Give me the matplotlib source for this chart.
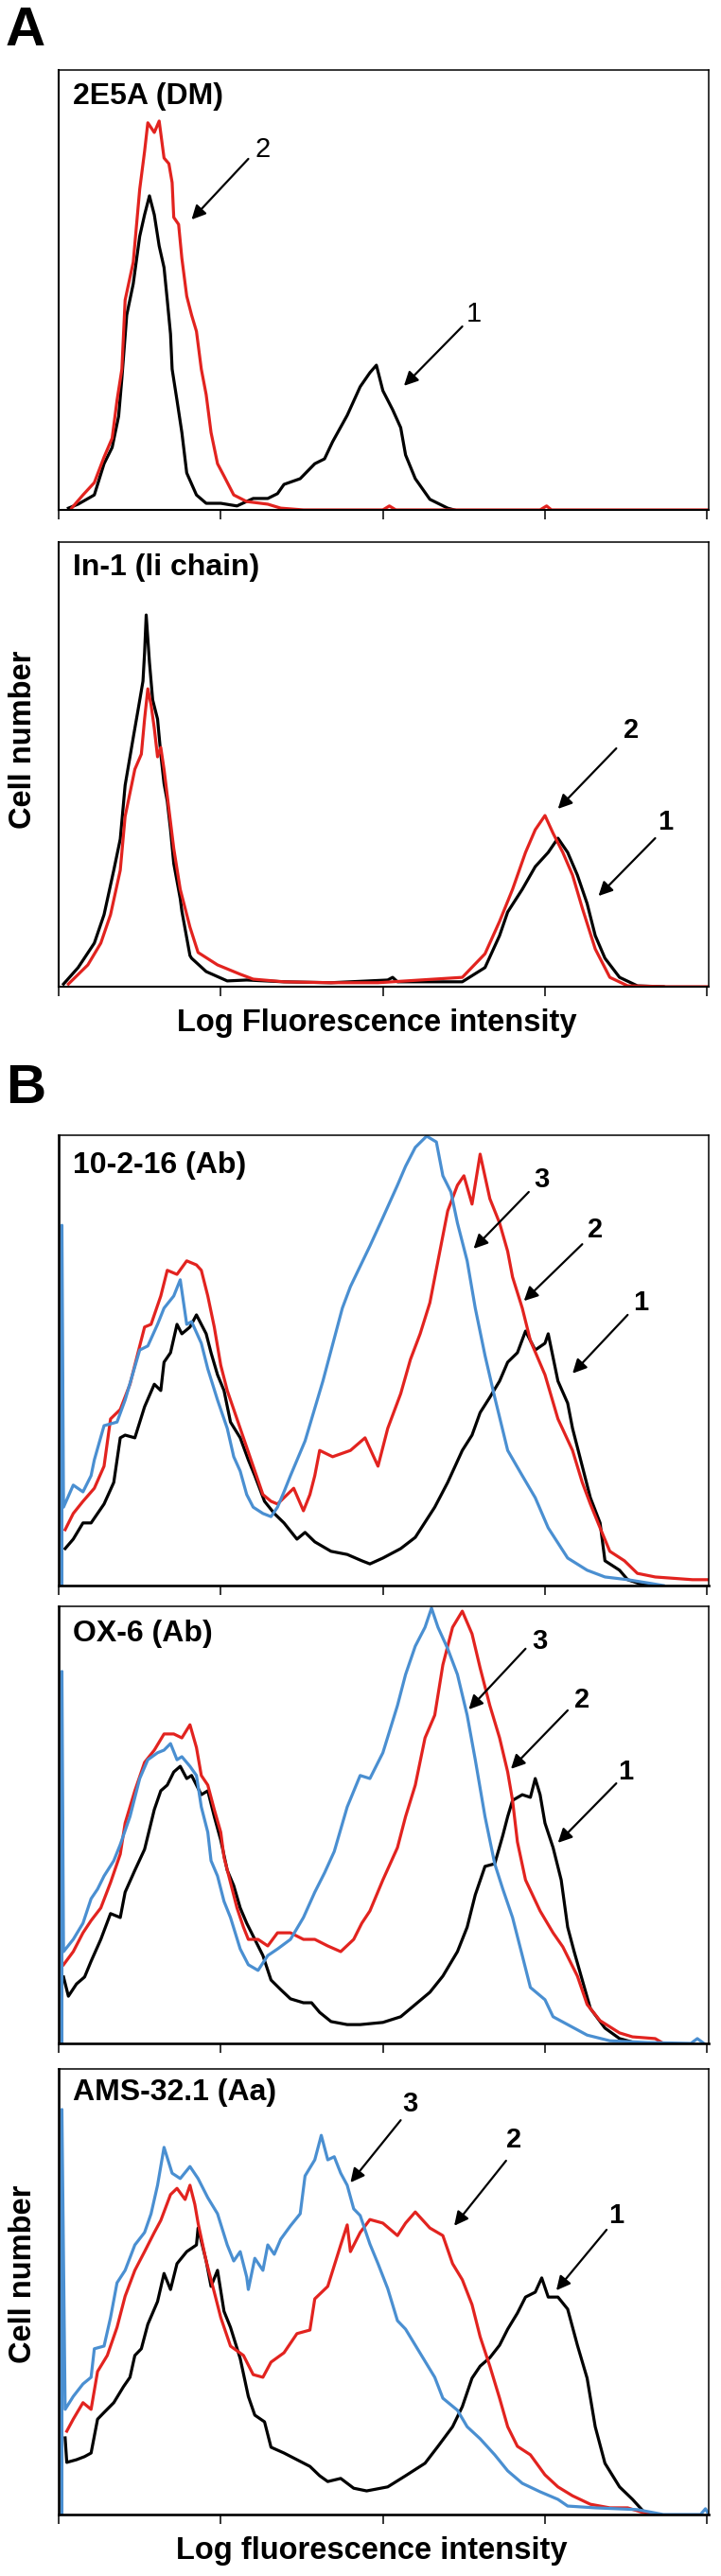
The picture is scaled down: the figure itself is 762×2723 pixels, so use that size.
import matplotlib
matplotlib.use("Agg")
import matplotlib.pyplot as plt

plt.rcParams["font.family"] = ["Liberation Sans", "DejaVu Sans"]

RED = "#e2231f"
BLUE = "#4a8fd1"

# x = log fluorescence (decades, 0-4), y = cell number (% of panel height)

# ── A, panel 1: 2E5A (DM) ─────────────────────────────────────────
p1_black_x = [0.06, 0.12, 0.22, 0.28, 0.33, 0.37, 0.39, 0.42, 0.46, 0.50, 0.53, 0.56, 0.59, 0.62, 0.65,
              0.67, 0.69, 0.70, 0.73, 0.76, 0.79, 0.85, 0.91, 1.00, 1.10, 1.20, 1.29, 1.35, 1.39, 1.49,
              1.58, 1.64, 1.69, 1.78, 1.86, 1.92, 1.96, 2.00, 2.06, 2.11, 2.14, 2.20, 2.29, 2.40, 2.44]
p1_black_y = [0.4, 1.3, 3.4, 10.5, 14.2, 21.3, 29.9, 44.3, 51.4, 62.2, 67.1, 71.4, 67.1, 60.0, 55.1,
              47.7, 40.0, 32.0, 24.9, 17.6, 8.4, 3.4, 1.5, 1.5, 0.9, 2.6, 2.6, 3.7, 5.8, 7.1,
              10.5, 11.6, 15.5, 21.5, 28.0, 31.2, 32.9, 27.1, 22.8, 18.7, 12.5, 7.1, 2.4, 0.4, 0.0]
p1_red_x = [0.08, 0.15, 0.22, 0.28, 0.33, 0.36, 0.39, 0.41, 0.46, 0.50, 0.53, 0.55, 0.59, 0.62, 0.65,
            0.68, 0.70, 0.71, 0.74, 0.76, 0.79, 0.82, 0.85, 0.88, 0.91, 0.94, 0.98, 1.02, 1.08, 1.16,
            1.29, 1.37, 1.51, 2.00, 2.04, 2.08, 2.97, 3.01, 3.04, 4.01]
p1_red_y = [0.4, 3.4, 6.2, 12.0, 16.3, 24.9, 32.0, 47.7, 56.3, 72.9, 81.5, 88.0, 85.8, 88.4, 80.0,
            78.7, 74.4, 66.5, 64.9, 57.2, 48.6, 44.3, 40.6, 32.0, 26.2, 17.6, 10.5, 7.7, 3.4, 1.9,
            1.3, 0.4, 0, 0, 0.9, 0, 0, 0.9, 0, 0]

# ── A, panel 2: In-1 (Ii chain) ───────────────────────────────────
p2_black_x = [0.03, 0.12, 0.22, 0.28, 0.34, 0.38, 0.41, 0.46, 0.49, 0.52, 0.53, 0.54, 0.56, 0.58, 0.61,
              0.63, 0.65, 0.67, 0.69, 0.71, 0.75, 0.76, 0.81, 0.82, 0.91, 1.04, 1.16, 1.39, 1.68, 2.03,
              2.06, 2.09, 2.49, 2.63, 2.72, 2.77, 2.86, 2.94, 3.00, 3.02, 3.08, 3.14, 3.20, 3.26, 3.31,
              3.37, 3.46, 3.57, 3.73]
p2_black_y = [0.6, 4.3, 9.8, 16.2, 26.2, 33.2, 45.3, 56.0, 62.3, 68.7, 75.1, 83.6, 73.0, 64.5, 60.2,
              52.3, 45.7, 41.7, 35.3, 27.7, 19.8, 17.0, 7.0, 6.4, 3.4, 1.3, 1.5, 1.1, 0.9, 1.5,
              2.1, 1.1, 1.1, 4.3, 11.5, 16.8, 21.9, 27.0, 29.4, 30.2, 33.4, 30.2, 25.1, 18.7, 11.5,
              6.4, 2.1, 0.2, 0]
p2_red_x = [0.06, 0.18, 0.26, 0.32, 0.38, 0.41, 0.47, 0.51, 0.53, 0.55, 0.57, 0.59, 0.61, 0.63, 0.65,
            0.71, 0.75, 0.81, 0.86, 0.98, 1.12, 1.20, 1.39, 1.68, 1.97, 2.49, 2.63, 2.72, 2.80, 2.88,
            2.94, 3.00, 3.05, 3.11, 3.17, 3.23, 3.31, 3.40, 3.51, 3.75, 4.01]
p2_red_y = [0.6, 4.9, 9.8, 16.2, 26.2, 38.3, 48.9, 52.3, 60.2, 67.0, 63.4, 58.1, 51.7, 53.8, 48.9,
            31.1, 21.9, 13.4, 7.7, 4.9, 2.8, 1.7, 1.1, 0.9, 0.9, 2.1, 7.4, 14.7, 21.9, 30.2,
            35.3, 38.5, 34.5, 30.2, 25.1, 17.7, 8.5, 2.1, 0.2, 0, 0]

# ── B, panel 3: 10-2-16 (Ab) ──────────────────────────────────────
p3_black_x = [0.04, 0.09, 0.15, 0.20, 0.28, 0.34, 0.38, 0.41, 0.47, 0.53, 0.59, 0.63, 0.65, 0.69, 0.73,
              0.76, 0.81, 0.85, 0.91, 0.94, 0.98, 1.02, 1.06, 1.12, 1.17, 1.21, 1.27, 1.33, 1.39, 1.47,
              1.52, 1.58, 1.68, 1.78, 1.87, 1.92, 2.00, 2.11, 2.20, 2.32, 2.40, 2.49, 2.55, 2.60, 2.66,
              2.72, 2.77, 2.83, 2.88, 2.94, 3.00, 3.02, 3.08, 3.14, 3.17, 3.23, 3.28, 3.34, 3.37, 3.46,
              3.51, 3.60, 3.67]
p3_black_y = [8.2, 10.3, 13.9, 13.9, 18.1, 22.9, 32.8, 33.4, 32.8, 39.7, 44.7, 43.3, 49.6, 51.7, 58.0,
              55.9, 57.4, 60.1, 55.9, 51.7, 46.8, 43.3, 36.3, 32.8, 27.9, 24.4, 18.7, 16.0, 13.9, 10.3,
              11.8, 9.7, 7.6, 6.9, 5.5, 4.8, 6.1, 8.2, 10.7, 17.4, 22.9, 30.0, 33.4, 38.4, 41.8,
              45.4, 49.6, 51.7, 56.5, 52.3, 53.8, 55.9, 45.4, 40.5, 34.9, 26.5, 19.5, 13.9, 5.5, 3.4,
              1.3, 0.2, 0]
p3_red_x = [0.04, 0.09, 0.15, 0.22, 0.28, 0.32, 0.38, 0.44, 0.50, 0.53, 0.57, 0.63, 0.67, 0.73, 0.79,
            0.85, 0.88, 0.92, 0.96, 1.00, 1.04, 1.08, 1.14, 1.20, 1.26, 1.31, 1.35, 1.39, 1.45, 1.51,
            1.55, 1.58, 1.61, 1.69, 1.80, 1.89, 1.97, 2.03, 2.11, 2.17, 2.23, 2.29, 2.34, 2.40, 2.46,
            2.50, 2.55, 2.60, 2.66, 2.72, 2.77, 2.80, 2.86, 2.91, 3.00, 3.08, 3.17, 3.23, 3.28, 3.34,
            3.40, 3.49, 3.57, 3.68, 3.91, 4.01]
p3_red_y = [12.4, 16.0, 18.7, 21.6, 26.5, 37.0, 39.1, 44.7, 53.2, 57.4, 58.0, 64.3, 70.0, 69.1, 72.1,
            71.2, 70.0, 64.3, 57.4, 48.9, 43.3, 39.1, 32.8, 26.5, 20.2, 18.7, 18.1, 19.5, 21.6, 16.6,
            20.2, 24.4, 30.0, 28.6, 30.0, 32.8, 26.5, 34.9, 42.6, 50.2, 55.9, 62.8, 72.1, 83.2, 88.9,
            91.0, 84.7, 95.8, 85.9, 80.5, 74.2, 68.5, 61.6, 54.4, 46.8, 37.0, 30.0, 22.9, 18.1, 12.8,
            7.6, 5.5, 2.7, 1.9, 1.3, 1.3]
p3_blue_x = [0.02, 0.02, 0.03, 0.09, 0.15, 0.20, 0.22, 0.28, 0.36, 0.41, 0.50, 0.55, 0.61, 0.65, 0.71,
             0.75, 0.79, 0.82, 0.88, 0.92, 0.98, 1.04, 1.08, 1.12, 1.16, 1.20, 1.26, 1.31, 1.35, 1.39,
             1.43, 1.52, 1.63, 1.75, 1.80, 1.92, 2.00, 2.09, 2.14, 2.20, 2.27, 2.33, 2.37, 2.42, 2.46,
             2.52, 2.57, 2.63, 2.69, 2.77, 2.86, 2.94, 3.02, 3.14, 3.26, 3.37, 3.51, 3.63, 3.73]
p3_blue_y = [0, 80.0, 17.4, 22.3, 20.8, 24.4, 27.9, 35.5, 36.3, 41.2, 52.3, 53.2, 58.0, 61.6, 64.3,
             67.9, 58.0, 58.6, 53.8, 48.1, 41.2, 34.9, 28.6, 25.4, 20.2, 17.4, 16.0, 15.3, 17.4, 20.8,
             24.4, 32.1, 45.4, 61.6, 66.4, 75.4, 81.7, 88.9, 93.1, 97.3, 99.8, 98.5, 91.0, 87.4, 80.5,
             72.1, 61.6, 51.1, 41.8, 30.0, 24.4, 19.5, 12.8, 6.1, 3.4, 1.9, 1.3, 0.6, 0]

# ── B, panel 4: OX-6 (Ab) ─────────────────────────────────────────
p4_black_x = [0.03, 0.06, 0.11, 0.16, 0.20, 0.26, 0.32, 0.38, 0.41, 0.47, 0.53, 0.59, 0.63, 0.67, 0.71,
              0.75, 0.79, 0.82, 0.88, 0.92, 0.96, 1.00, 1.04, 1.08, 1.12, 1.16, 1.21, 1.26, 1.31, 1.37,
              1.43, 1.51, 1.56, 1.61, 1.68, 1.78, 1.86, 2.00, 2.11, 2.20, 2.29, 2.37, 2.46, 2.52, 2.57,
              2.63, 2.69, 2.74, 2.77, 2.80, 2.86, 2.91, 2.94, 2.97, 3.00, 3.05, 3.10, 3.14, 3.18, 3.23,
              3.28, 3.37, 3.46, 3.57]
p4_black_y = [15.2, 10.8, 13.6, 15.2, 18.8, 23.8, 29.7, 28.8, 34.6, 39.6, 44.4, 53.5, 57.8, 59.1, 62.1,
              63.4, 60.6, 61.3, 56.9, 57.8, 51.9, 46.5, 39.6, 36.1, 31.0, 27.5, 23.8, 20.1, 14.5, 12.3,
              10.2, 9.3, 9.3, 7.1, 5.0, 4.3, 4.3, 4.8, 6.1, 8.9, 11.7, 15.4, 21.0, 26.6, 34.0,
              40.5, 41.1, 47.6, 51.9, 55.6, 56.9, 56.3, 60.6, 56.9, 50.4, 44.8, 37.4, 26.6, 21.0, 14.5,
              8.0, 3.5, 1.1, 0]
p4_red_x = [0.03, 0.09, 0.15, 0.20, 0.26, 0.32, 0.38, 0.41, 0.47, 0.53, 0.59, 0.65, 0.71, 0.76, 0.81,
            0.85, 0.88, 0.92, 0.96, 1.00, 1.02, 1.06, 1.10, 1.14, 1.17, 1.23, 1.29, 1.35, 1.43, 1.51,
            1.58, 1.66, 1.74, 1.82, 1.87, 1.92, 2.00, 2.09, 2.14, 2.20, 2.26, 2.32, 2.37, 2.43, 2.49,
            2.55, 2.60, 2.66, 2.72, 2.77, 2.80, 2.83, 2.88, 2.97, 3.05, 3.11, 3.20, 3.26, 3.34, 3.46,
            3.54, 3.68, 3.73]
p4_red_y = [18.0, 21.0, 25.3, 28.1, 31.0, 36.8, 43.3, 50.4, 57.8, 64.3, 67.1, 70.8, 70.8, 69.9, 72.9,
            67.7, 61.3, 59.1, 53.5, 48.3, 42.6, 36.8, 31.0, 26.6, 23.8, 23.8, 22.3, 25.3, 25.3, 23.8,
            23.8, 22.3, 21.0, 23.8, 27.5, 30.3, 37.4, 44.8, 51.9, 59.1, 69.9, 75.1, 86.6, 95.2, 98.9,
            93.7, 85.9, 77.3, 69.9, 62.1, 55.6, 46.1, 37.4, 30.3, 25.3, 22.1, 15.4, 8.9, 5.2, 2.4,
            1.5, 1.1, 0]
p4_blue_x = [0.02, 0.02, 0.03, 0.09, 0.15, 0.20, 0.24, 0.28, 0.34, 0.38, 0.44, 0.50, 0.55, 0.61, 0.65,
             0.69, 0.73, 0.76, 0.81, 0.85, 0.88, 0.92, 0.94, 0.98, 1.02, 1.06, 1.12, 1.17, 1.23, 1.29,
             1.35, 1.43, 1.51, 1.58, 1.64, 1.70, 1.78, 1.86, 1.92, 2.00, 2.09, 2.14, 2.20, 2.26, 2.30,
             2.34, 2.40, 2.46, 2.52, 2.57, 2.63, 2.69, 2.74, 2.80, 2.86, 2.91, 3.00, 3.05, 3.14, 3.26,
             3.40, 3.63, 3.90, 3.94, 3.98]
p4_blue_y = [0, 85.1, 21.0, 23.8, 27.5, 33.1, 35.3, 38.3, 41.8, 45.5, 51.9, 60.6, 64.9, 66.5, 67.1,
             68.6, 64.9, 65.6, 63.4, 61.3, 54.1, 48.3, 41.8, 38.3, 32.5, 28.8, 21.6, 18.0, 16.7, 20.1,
             21.6, 23.8, 28.8, 34.6, 39.0, 43.9, 54.1, 61.3, 60.6, 66.5, 77.3, 84.4, 90.9, 95.2, 99.6,
             95.2, 90.3, 84.4, 75.1, 64.9, 51.9, 41.1, 35.3, 28.8, 20.1, 12.8, 10.0, 6.1, 4.3, 1.9,
             0.6, 0.2, 0, 1.1, 0]

# ── B, panel 5: AMS-32.1 (Aa) ─────────────────────────────────────
p5_black_x = [0.04, 0.05, 0.11, 0.16, 0.20, 0.24, 0.28, 0.34, 0.40, 0.44, 0.47, 0.51, 0.55, 0.61, 0.65,
              0.69, 0.73, 0.79, 0.85, 0.86, 0.91, 0.94, 0.98, 1.02, 1.06, 1.12, 1.17, 1.21, 1.27, 1.31,
              1.39, 1.47, 1.55, 1.61, 1.66, 1.74, 1.82, 1.90, 2.03, 2.14, 2.26, 2.34, 2.43, 2.49, 2.55,
              2.60, 2.66, 2.72, 2.77, 2.83, 2.88, 2.94, 2.98, 3.02, 3.08, 3.14, 3.20, 3.26, 3.31, 3.37,
              3.46, 3.54, 3.61, 3.67]
p5_black_y = [17.2, 11.7, 12.3, 13.0, 13.8, 21.4, 22.9, 25.1, 28.7, 30.8, 35.7, 37.2, 42.7, 47.8, 54.1,
              50.5, 56.3, 59.0, 60.5, 64.3, 56.9, 51.2, 54.8, 45.6, 42.0, 35.0, 26.5, 22.3, 20.8, 15.1,
              13.8, 12.3, 10.8, 8.7, 7.4, 8.1, 5.9, 5.3, 6.2, 8.7, 11.5, 15.3, 19.7, 24.2, 30.6,
              33.3, 35.2, 38.0, 41.6, 45.2, 48.8, 49.9, 53.1, 48.8, 48.8, 46.1, 38.0, 30.6, 19.7, 11.5,
              6.2, 3.4, 0.6, 0]
p5_red_x = [0.05, 0.09, 0.15, 0.20, 0.24, 0.30, 0.36, 0.41, 0.47, 0.53, 0.59, 0.63, 0.69, 0.73, 0.78,
            0.81, 0.84, 0.86, 0.91, 0.96, 1.00, 1.06, 1.14, 1.20, 1.26, 1.31, 1.39, 1.47, 1.55, 1.58,
            1.66, 1.74, 1.78, 1.80, 1.86, 1.92, 2.00, 2.09, 2.14, 2.20, 2.29, 2.37, 2.43, 2.49, 2.55,
            2.60, 2.66, 2.72, 2.77, 2.83, 2.91, 3.00, 3.08, 3.17, 3.28, 3.40, 3.51, 3.59, 3.67]
p5_red_y = [18.7, 21.4, 25.1, 23.6, 32.1, 35.7, 42.0, 49.0, 54.8, 59.0, 63.3, 66.0, 71.8, 73.2, 70.7,
            73.9, 69.6, 65.4, 56.9, 49.9, 44.2, 37.8, 35.7, 31.4, 30.8, 34.2, 36.3, 40.6, 41.4, 48.4,
            51.2, 60.5, 65.0, 59.0, 63.3, 66.2, 65.4, 62.6, 65.4, 67.9, 64.3, 62.6, 56.3, 52.7, 47.1,
            39.9, 33.3, 26.1, 19.7, 15.3, 13.4, 8.9, 6.2, 4.2, 2.3, 1.5, 1.5, 0.6, 0]
p5_blue_x = [0.02, 0.02, 0.04, 0.09, 0.15, 0.20, 0.22, 0.28, 0.32, 0.36, 0.41, 0.47, 0.53, 0.57, 0.61,
             0.65, 0.70, 0.75, 0.81, 0.86, 0.92, 0.98, 1.04, 1.08, 1.12, 1.16, 1.17, 1.21, 1.26, 1.29,
             1.33, 1.37, 1.43, 1.49, 1.52, 1.58, 1.62, 1.66, 1.70, 1.74, 1.78, 1.82, 1.86, 1.92, 1.97,
             2.03, 2.09, 2.14, 2.20, 2.26, 2.32, 2.37, 2.46, 2.52, 2.60, 2.69, 2.77, 2.86, 2.97, 3.08,
             3.14, 3.31, 3.57, 3.73, 3.96, 3.99, 4.01]
p5_blue_y = [0, 90.9, 23.6, 26.5, 29.3, 30.8, 37.2, 37.8, 44.2, 52.0, 54.8, 60.5, 63.3, 67.5, 73.9,
             82.4, 76.6, 75.4, 78.1, 75.4, 71.1, 67.5, 60.5, 56.9, 59.0, 53.3, 50.5, 57.5, 54.8, 60.5,
             58.4, 61.8, 64.8, 67.5, 76.0, 79.6, 85.1, 79.6, 80.3, 76.6, 73.9, 68.6, 67.1, 60.7, 56.3,
             50.7, 43.5, 41.6, 38.0, 34.4, 30.8, 26.1, 23.4, 19.7, 17.0, 13.4, 9.8, 7.0, 5.1, 3.4,
             1.9, 1.5, 1.1, 0, 0, 1.3, 0]

panel_titles = ["2E5A (DM)", "In-1 (li chain)", "10-2-16 (Ab)", "OX-6 (Ab)", "AMS-32.1 (Aa)"]

# ── Layout (pixel boxes of the 762 x 2723 figure) ─────────────────
W, H = 762, 2723
X0, X1 = 62, 749
boxes = [(74, 539), (573, 1043), (1200, 1676), (1698, 2160), (2187, 2658)]
title_gap = [13, 12, 17, 14, 10]

fig = plt.figure(figsize=(W / 100, H / 100), dpi=100)


def make_axes(top, bottom, thick):
    ax = fig.add_axes([X0 / W, 1 - bottom / H, (X1 - X0) / W, (bottom - top) / H])
    ax.set_xlim(0, 4.01)
    ax.set_ylim(0, 100)
    ax.set_xticks([0, 1, 2, 3, 4])
    ax.set_xticklabels([])
    ax.set_yticks([])
    ax.tick_params(axis="x", direction="out", length=7.5, width=1.1, color="black")
    for side in ["top", "right"]:
        ax.spines[side].set_linewidth(1.1)
    for side in ["left", "bottom"]:
        ax.spines[side].set_linewidth(thick)
    return ax


def arrow(ax, label, txt, tail, head, bold=True):
    ax.annotate("", xy=head, xytext=tail,
                arrowprops=dict(arrowstyle="-|>", color="black", lw=1.6,
                                mutation_scale=22, shrinkA=0, shrinkB=0))
    ax.text(txt[0], txt[1], label, ha="center", va="center", fontsize=21,
            fontweight="bold" if bold else "normal")


axes = []
for i, (top, bottom) in enumerate(boxes):
    ax = make_axes(top, bottom, 1.5 if i < 2 else 1.9)
    ax.text(0.022, 1 - title_gap[i] / (bottom - top), panel_titles[i], transform=ax.transAxes,
            ha="left", va="top", fontsize=23, fontweight="bold")
    axes.append(ax)

lw = 2.3
# panel 1
axes[0].plot(p1_black_x, p1_black_y, color="black", lw=lw)
axes[0].plot(p1_red_x, p1_red_y, color=RED, lw=lw)
arrow(axes[0], "2", (1.26, 81.9), (1.17, 79.8), (0.82, 66.0), bold=False)
arrow(axes[0], "1", (2.56, 44.5), (2.49, 41.7), (2.13, 28.2), bold=False)

# panel 2
axes[1].plot(p2_black_x, p2_black_y, color="black", lw=lw)
axes[1].plot(p2_red_x, p2_red_y, color=RED, lw=lw)
arrow(axes[1], "2", (3.53, 57.7), (3.44, 53.6), (3.08, 40.0))
arrow(axes[1], "1", (3.74, 37.0), (3.68, 33.4), (3.33, 20.4))

# panels 3-5
for ax, (bx, by), (rx, ry), (ux, uy) in [
        (axes[2], (p3_black_x, p3_black_y), (p3_red_x, p3_red_y), (p3_blue_x, p3_blue_y)),
        (axes[3], (p4_black_x, p4_black_y), (p4_red_x, p4_red_y), (p4_blue_x, p4_blue_y)),
        (axes[4], (p5_black_x, p5_black_y), (p5_red_x, p5_red_y), (p5_blue_x, p5_blue_y))]:
    ax.plot(bx, by, color="black", lw=lw)
    ax.plot(rx, ry, color=RED, lw=lw)
    ax.plot(ux, uy, color=BLUE, lw=lw)

arrow(axes[2], "3", (2.98, 90.1), (2.90, 87.4), (2.56, 74.8))
arrow(axes[2], "2", (3.31, 79.0), (3.23, 75.8), (2.87, 63.2))
arrow(axes[2], "1", (3.59, 62.8), (3.51, 60.1), (3.17, 47.1))
arrow(axes[3], "3", (2.97, 92.0), (2.88, 90.3), (2.53, 76.4))
arrow(axes[3], "2", (3.23, 78.6), (3.14, 76.2), (2.79, 62.8))
arrow(axes[3], "1", (3.50, 62.1), (3.44, 59.5), (3.08, 45.9))
arrow(axes[4], "3", (2.17, 92.1), (2.11, 88.5), (1.80, 74.5))
arrow(axes[4], "2", (2.81, 84.1), (2.76, 79.4), (2.44, 64.8))
arrow(axes[4], "1", (3.44, 67.1), (3.38, 63.9), (3.07, 50.3))

# ── figure-level labels ───────────────────────────────────────────
def ftext(x, y, s, **kw):
    fig.text(x / W, 1 - y / H, s, **kw)

ftext(6, 6, "A", ha="left", va="top", fontsize=42, fontweight="bold")
ftext(6, 1124, "B", ha="left", va="top", fontsize=42, fontweight="bold")
ftext(25, 782, "Cell number", ha="center", va="center", rotation=90, fontsize=23.5, fontweight="bold")
ftext(25, 2404, "Cell number", ha="center", va="center", rotation=90, fontsize=23.5, fontweight="bold")
ftext(398, 1081, "Log Fluorescence intensity", ha="center", va="center", fontsize=23.5, fontweight="bold")
ftext(393, 2697, "Log fluorescence intensity", ha="center", va="center", fontsize=23.5, fontweight="bold")

fig.savefig("out.png", dpi=100)
